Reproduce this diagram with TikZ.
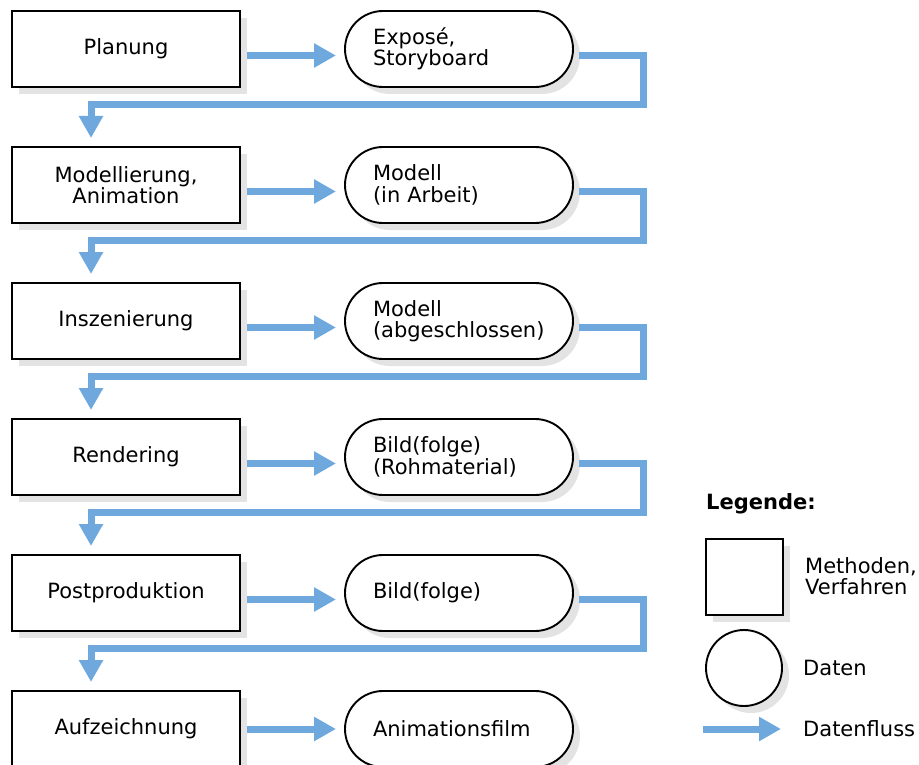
\documentclass[tikz,border=0pt]{standalone}
\usepackage{fontspec}
\setmainfont{DejaVu Sans}
\usetikzlibrary{arrows.meta,shadows,calc}
\definecolor{flow}{RGB}{111,168,220}
\definecolor{shade}{RGB}{227,227,227}
\begin{document}
\begin{tikzpicture}[x=1pt,y=-1pt,
  txt/.style={font=\fontsize{21}{21.5}\selectfont},
  base/.style={txt, draw=black, line width=1.9pt, fill=white, outer sep=0pt,
    drop shadow={shadow xshift=7pt, shadow yshift=-7pt, fill=shade, opacity=1}},
  method/.style={base, rectangle, minimum width=228pt, minimum height=76pt, align=center, inner sep=0pt},
  data/.style={base, rectangle, rounded corners=38pt, minimum height=76pt, text width=172pt,
    inner xsep=28pt, inner ysep=0pt, align=left},
  flowline/.style={draw=flow, line width=7pt, -{Triangle[length=22pt,width=23pt]}},
  lbl/.style={txt, anchor=west, align=left, inner sep=0pt}
]
\useasboundingbox (0,0) rectangle (919,765);

\node[method] (m1) at (126,49) {Planung};
\node[method] (m2) at (126,185) {Modellierung,\\Animation};
\node[method] (m3) at (126,321) {Inszenierung};
\node[method] (m4) at (126,457) {Rendering};
\node[method] (m5) at (126,593) {Postproduktion};
\node[method] (m6) at (126,729) {Aufzeichnung};

\node[data] (d1) at (459,49) {Exposé,\\Storyboard};
\node[data] (d2) at (459,185) {Modell\\(in Arbeit)};
\node[data] (d3) at (459,321) {Modell\\(abgeschlossen)};
\node[data] (d4) at (459,457) {Bild(folge)\\(Rohmaterial)};
\node[data] (d5) at (459,593) {Bild(folge)};
\node[data] (d6) at (459,729) {Animationsfilm};

\foreach \i in {1,...,5}{
  \draw[flowline] ($(m\i.east)+(7,6.5)$) -- ($(d\i.west)+(-9,6.5)$);
}
\draw[flowline] ($(m6.east)+(7,0)$) -- ($(d6.west)+(-9,0)$);

\foreach \i/\j in {1/2,2/3,3/4,4/5,5/6}{
  \draw[flowline] ($(d\i.east)+(6,6.5)$) -| ($(d\i.east)+(70,55.5)$) -| ($(m\j.north)+(-35,-9)$);
}

% legend
\node[txt, font=\fontsize{21}{21.5}\selectfont\bfseries, anchor=west, inner sep=0pt] (leg) at (706,504) {Legende:};
\node[base, rectangle, minimum width=77pt, minimum height=76pt, inner sep=0pt] (lsq) at (744.5,577) {};
\node[base, circle, minimum size=76pt, inner sep=0pt] (lci) at (744,668) {};
\coordinate (la) at (703,729);
\coordinate (lb) at (781,729);
\draw[flowline] (la) -- (lb);
\node[lbl] (tsq) at (805,576) {Methoden,\\Verfahren};
\node[lbl] (tci) at (803,668) {Daten};
\node[lbl] (tfl) at (803,729) {Datenfluss};
\end{tikzpicture}
\end{document}
